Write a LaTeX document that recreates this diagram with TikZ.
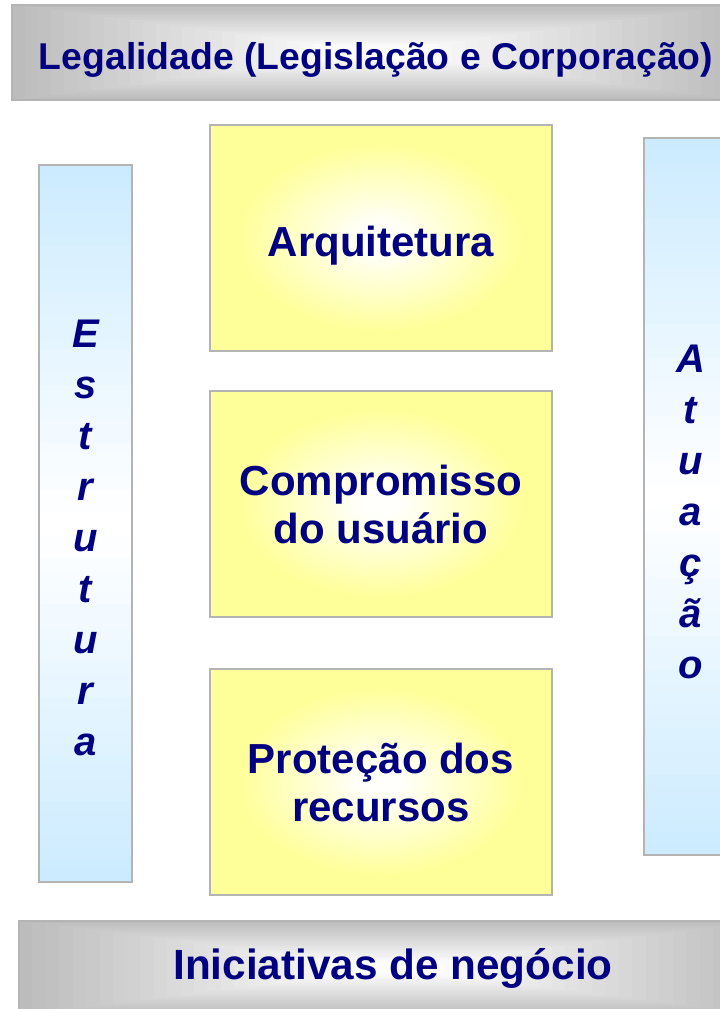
\documentclass[tikz,border=0pt]{standalone}
\usepackage{fontspec}
\setmainfont{Liberation Sans}
\usepackage{tikz}
\usetikzlibrary{calc}
\definecolor{navy}{RGB}{0,0,128}
\definecolor{bargray}{RGB}{188,188,188}
\definecolor{boxyellow}{RGB}{255,255,153}
\definecolor{barblue}{RGB}{204,235,255}
\definecolor{rim}{RGB}{180,180,180}
\tikzset{
  glow/.style={path picture={
    \fill[#1] (path picture bounding box.south west) rectangle (path picture bounding box.north east);
    \foreach \k in {0,...,24}{
      \pgfmathsetmacro\rad{0.85-0.03*\k}
      \pgfmathtruncatemacro\mix{100-4*\k}
      \fill[#1!\mix!white] let \p1=($(path picture bounding box.north east)-(path picture bounding box.center)$) in
        (path picture bounding box.center) ellipse [x radius=\rad*\x1, y radius=\rad*\y1];
    }}},
  rglow/.style={path picture={
    \foreach \k in {0,...,24}{
      \pgfmathsetmacro\rad{1-0.036*\k}
      \pgfmathtruncatemacro\mix{100-4*\k}
      \fill[#1!\mix!white] ($(path picture bounding box.center)!\rad!(path picture bounding box.south west)$) rectangle
        ($(path picture bounding box.center)!\rad!(path picture bounding box.north east)$);
    }}},
  vfade/.style={path picture={
    \fill[#1] (path picture bounding box.south west) rectangle (path picture bounding box.north east);
    \foreach \k in {1,...,30}{
      \pgfmathtruncatemacro\mix{100-\k*100/30}
      \fill[#1!\mix!white] ($(path picture bounding box.north west)!\k/62!(path picture bounding box.south west)$) rectangle
        ($(path picture bounding box.south east)!\k/62!(path picture bounding box.north east)$);
    }}}
}

\begin{document}
\begin{tikzpicture}[x=0.75pt, y=0.75pt,
      banner/.style={rectangle, draw=rim, line width=1.5pt, rglow=bargray, text=navy, font=\bfseries\fontsize{28pt}{33pt}\selectfont},
      block/.style={rectangle, draw=rim, line width=1.5pt, glow=boxyellow, minimum width=256.5pt, minimum height=169.5pt, align=center, text=navy, font=\bfseries\fontsize{31.5pt}{36pt}\selectfont},
      pillar/.style={rectangle, draw=rim, line width=1.5pt, vfade=barblue, minimum width=69.75pt, minimum height=537.75pt},
      letters/.style={align=center, text=navy, font=\bfseries\itshape\fontsize{30pt}{38.25pt}\selectfont}]

\useasboundingbox (0,0) rectangle (720,1009);
\clip (0,0) rectangle (720,1009);

\node[banner, minimum width=546pt, minimum height=71.25pt, text height=28pt, text depth=2pt] (lg) at (376,956.5) {Legalidade (Legislação e Corporação)};
\node[banner, minimum width=561pt, minimum height=70.5pt, font=\bfseries\fontsize{31.7pt}{36pt}\selectfont] (ng) at (393,41) {Iniciativas de negócio};

\node[pillar] (es) at (85.5,485.5) {};
\node[pillar] (at) at (690.5,512) {};
\node[letters] (estxt) at ([yshift=-11pt]es.center) {E\\s\\t\\r\\u\\t\\u\\r\\a};
\node[letters] (attxt) at ([yshift=-11pt]at.center) {A\\t\\u\\a\\ç\\ã\\o};

\node[block, text height=30pt, text depth=1.6pt] (b1) at (381,771) {Arquitetura};
\node[block] (b2) at (381,505) {Compromisso\\do usuário};
\node[block] (b3) at (381,227) {Proteção dos\\recursos};

\end{tikzpicture}
\end{document}
